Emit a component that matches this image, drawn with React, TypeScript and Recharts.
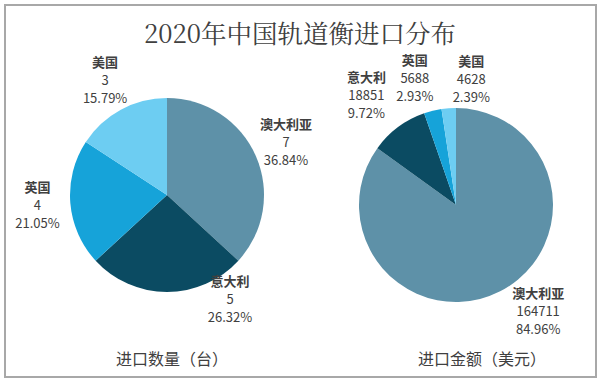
import React from 'react';
import { PieChart, Pie, Cell } from 'recharts';

const countries = ['澳大利亚', '意大利', '英国', '美国'];
const quantity = [7, 5, 4, 3];
const quantityPct = ['36.84%', '26.32%', '21.05%', '15.79%'];
const amount = [164711, 18851, 5688, 4628];
const amountPct = ['84.96%', '9.72%', '2.93%', '2.39%'];

const colors = ['#5E91A8', '#0B4B62', '#16A3D9', '#6DCDF2'];

const quantityData = countries.map((name, i) => ({ name, value: quantity[i], pct: quantityPct[i] }));
const amountData = countries.map((name, i) => ({ name, value: amount[i], pct: amountPct[i] }));

// Excel moved some labels off the radial line ("best fit"), so nudge them the same way
const quantityNudge: Record<string, [number, number]> = { '意大利': [63, -25] };
const amountNudge: Record<string, [number, number]> = {
    '澳大利亚': [23, -9],
    '意大利': [-12, -5],
    '英国': [-10, 0],
    '美国': [25, 5],
};

const RAD = Math.PI / 180;

function makeLabel(nudge: Record<string, [number, number]>) {
    return (props: any) => {
        const { cx, cy, midAngle, outerRadius, payload } = props;
        const d = outerRadius + 33;
        const [dx, dy] = nudge[payload.name] || [0, 0];
        const x = cx + d * Math.cos(-midAngle * RAD) + dx;
        const y = cy + d * Math.sin(-midAngle * RAD) + dy;
        return (
            <text x={x} y={y} textAnchor="middle" fill="#404040" fontSize={13} fontFamily="'Noto Sans CJK SC', 'Noto Sans', sans-serif">
                <tspan x={x} dy={-14} fontWeight="bold">{payload.name}</tspan>
                <tspan x={x} dy={18}>{payload.value}</tspan>
                <tspan x={x} dy={18}>{payload.pct}</tspan>
            </text>
        );
    };
}

export default function App() {
    return (
        <div style={{ position: 'fixed', left: 0, top: 0, width: 600, height: 381, background: '#fff' }}>
            <div
                style={{
                    position: 'absolute', left: 4, top: 4, width: 589, height: 370,
                    border: '2px solid #a8a8a8', boxSizing: 'content-box',
                }}
            />
            <div
                style={{
                    position: 'absolute', left: 0, top: 14, width: 600, textAlign: 'center',
                    fontSize: 25.5, color: '#404040', fontFamily: "'Noto Serif CJK SC', 'DejaVu Serif', serif",
                }}
            >
                2020年中国轨道衡进口分布
            </div>
            <PieChart
                width={600}
                height={381}
                margin={{ top: 0, right: 0, bottom: 0, left: 0 }}
                style={{ position: 'absolute', left: 0, top: 0 }}
            >
                <Pie
                    data={quantityData}
                    dataKey="value"
                    cx={167}
                    cy={195}
                    outerRadius={97}
                    startAngle={90}
                    endAngle={-270}
                    stroke="none"
                    labelLine={false}
                    label={makeLabel(quantityNudge)}
                    isAnimationActive={false}
                >
                    {quantityData.map((entry, index) => (
                        <Cell key={`q-${index}`} fill={colors[index]} />
                    ))}
                </Pie>
                <Pie
                    data={amountData}
                    dataKey="value"
                    cx={456}
                    cy={205}
                    outerRadius={97}
                    startAngle={90}
                    endAngle={-270}
                    stroke="none"
                    labelLine={false}
                    label={makeLabel(amountNudge)}
                    isAnimationActive={false}
                >
                    {amountData.map((entry, index) => (
                        <Cell key={`a-${index}`} fill={colors[index]} />
                    ))}
                </Pie>
            </PieChart>
            <div
                style={{
                    position: 'absolute', left: 92, top: 346, width: 160, textAlign: 'center',
                    fontSize: 16, color: '#404040', fontFamily: "'Noto Sans CJK SC', sans-serif",
                }}
            >
                进口数量（台）
            </div>
            <div
                style={{
                    position: 'absolute', left: 392, top: 346, width: 180, textAlign: 'center',
                    fontSize: 16, color: '#404040', fontFamily: "'Noto Sans CJK SC', sans-serif",
                }}
            >
                进口金额（美元）
            </div>
        </div>
    );
}
